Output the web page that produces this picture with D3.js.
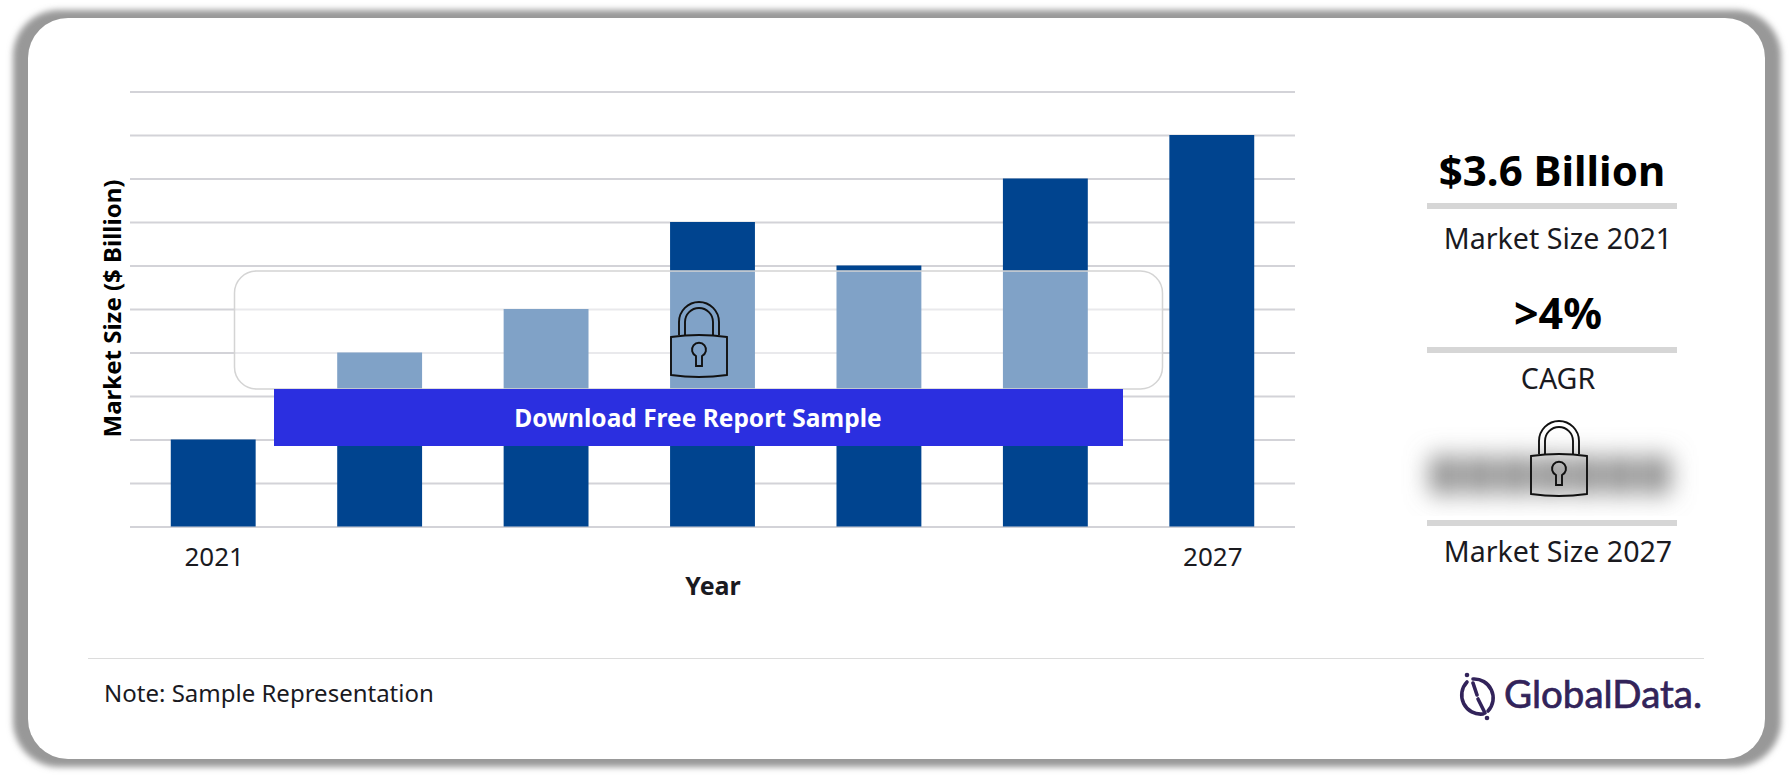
<!DOCTYPE html>
<html><head><meta charset="utf-8">
<script src="https://cdn.jsdelivr.net/npm/d3@7/dist/d3.min.js"></script>
<style>html,body{margin:0;padding:0;background:#fff;overflow:hidden}svg{display:block}text{font-family:"Noto Sans",sans-serif;fill:#1a1a1f}</style>
</head><body><svg id="c" width="1792" height="777"></svg>
<script>
const years=["2021","2022","2023","2024","2025","2026","2027"];
const sizes=[2,4,5,7,6,8,9];
const tickLabels=["2021","","","","","","2027"];
const gridTicks=[0,1,2,3,4,5,6,7,8,9,10];
const blurDashes=[0,1,2,3,4,5,6];
const svg=d3.select("#c");
const defs=svg.append("defs");
defs.append("filter").attr("id","sh").attr("x","-5%").attr("y","-5%").attr("width","110%").attr("height","110%")
 .append("feGaussianBlur").attr("stdDeviation",3);
defs.append("filter").attr("id","bl").attr("x","-30%").attr("y","-100%").attr("width","160%").attr("height","300%")
 .append("feGaussianBlur").attr("stdDeviation",12);
const clip=defs.append("clipPath").attr("id","blclip");
clip.append("rect").attr("x",1400).attr("y",425).attr("width",310).attr("height",91);
// frame
svg.append("rect").attr("x",13).attr("y",10).attr("width",1768).attr("height",757).attr("rx",46).attr("fill","#989898").attr("filter","url(#sh)");
svg.append("rect").attr("x",28).attr("y",18).attr("width",1737).attr("height",741).attr("rx",40).attr("fill","#fff");
// scales
const x=d3.scaleBand().domain(years).range([130,1295]).paddingInner(0.49).paddingOuter(0.245);
const y=d3.scaleLinear().domain([0,10]).range([527,92]);
// grid
svg.append("g").selectAll("line").data(gridTicks).join("line")
 .attr("x1",130).attr("x2",1295).attr("y1",d=>y(d)).attr("y2",d=>y(d)).attr("stroke","#d3d3d8").attr("stroke-width",1.8);
// bars
svg.append("g").selectAll("rect").data(sizes).join("rect")
 .attr("x",(d,i)=>x(years[i])).attr("width",x.bandwidth()).attr("y",d=>y(d)-0.5).attr("height",d=>y(0)-y(d)).attr("fill","#00448f");
// axis
const ax=svg.append("g").attr("transform","translate(0,527)").call(d3.axisBottom(x).tickSize(0).tickPadding(21).tickFormat((d,i)=>tickLabels[i]));
ax.select(".domain").remove();
ax.selectAll("text").style("font-family",'"Noto Sans",sans-serif').style("font-size","26px").attr("fill","#1a1a1f").attr("dx",1);
// labels
svg.append("text").attr("x",713).attr("y",595).attr("text-anchor","middle").attr("font-size",25).attr("font-weight",700).text("Year");
svg.append("text").attr("transform","translate(121,308.5) rotate(-90)").attr("text-anchor","middle").attr("font-size",24).attr("font-weight",700).style("fill","#000").text("Market Size ($ Billion)");
// overlay
svg.append("rect").attr("x",234.5).attr("y",271).attr("width",928).attr("height",118).attr("rx",22).attr("fill","#fff").attr("fill-opacity",0.5).attr("stroke","#d4d4d4").attr("stroke-width",1.5);
svg.append("rect").attr("x",274).attr("y",389).attr("width",849).attr("height",57).attr("fill","#2b2fe0");
svg.append("text").attr("x",698).attr("y",427).attr("text-anchor","middle").attr("font-size",24.5).attr("font-weight",700).style("fill","#fff").text("Download Free Report Sample");
// lock
function lock(px,py){
 const g=svg.append("g").attr("transform",`translate(${px},${py})`).attr("fill","none").attr("stroke","#111").attr("stroke-width",1.9);
 g.append("path").attr("d","M8 34V21A20 20 0 0 1 48 21V34");
 g.append("path").attr("d","M14 34V21A14 14 0 0 1 42 21V34");
 g.append("path").attr("d","M0 36Q28 32 56 36V74Q28 78 0 74Z");
 g.append("path").attr("d","M25 65V55A7 7 0 1 1 31 55V65Z");
}
lock(671,301);
// right panel
const rules=[203,347,520];
svg.append("g").selectAll("rect").data(rules).join("rect").attr("x",1427).attr("width",250).attr("y",d=>d).attr("height",6).attr("fill","#d6d6d6");
function t(s,xx,yy,fs,w){svg.append("text").attr("x",xx).attr("y",yy).attr("text-anchor","middle").attr("font-size",fs).attr("font-weight",w).style("fill",w>400?"#000":"#1a1a1f").text(s);}
t("$3.6 Billion",1552,186,42,700);
t("Market Size 2021",1558,249,28.6,400);
t(">4%",1558,329,43,700);
t("CAGR",1558,389,28.6,400);
t("Market Size 2027",1558,562,28.6,400);
// blurred value
const bg=svg.append("g").attr("clip-path","url(#blclip)").append("g").attr("filter","url(#bl)");
bg.selectAll("rect").data(blurDashes).join("rect").attr("x",d=>1430+d*35).attr("y",456).attr("width",30).attr("height",38).attr("fill","#8c8c8c");
lock(1531,420);
// footer
svg.append("line").attr("x1",88).attr("x2",1704).attr("y1",658.5).attr("y2",658.5).attr("stroke","#dcdcdc").attr("stroke-width",1.2);
svg.append("text").attr("x",104).attr("y",702).attr("font-size",24).text("Note: Sample Representation");
// logo
const lg=svg.append("g").attr("fill","none").attr("stroke","#32235a").attr("stroke-width",3.6).attr("stroke-linecap","round");
lg.append("path").attr("d","M1467 682A19 19 0 0 0 1483 714");
lg.append("path").attr("d","M1473 679A19 19 0 0 1 1488 711");
lg.append("path").attr("d","M1473 683L1477 695");
lg.append("path").attr("d","M1478 699L1485 713");
svg.append("circle").attr("cx",1467).attr("cy",675).attr("r",2.3).attr("fill","#32235a");
svg.append("circle").attr("cx",1487).attr("cy",718).attr("r",2.3).attr("fill","#32235a");
svg.append("text").attr("x",1504).attr("y",708).attr("font-size",38.5).attr("font-weight",400).style("font-family","Lato, sans-serif").style("fill","#32235a").style("stroke","#32235a").style("stroke-width",0.7).text("GlobalData.");
</script></body></html>
